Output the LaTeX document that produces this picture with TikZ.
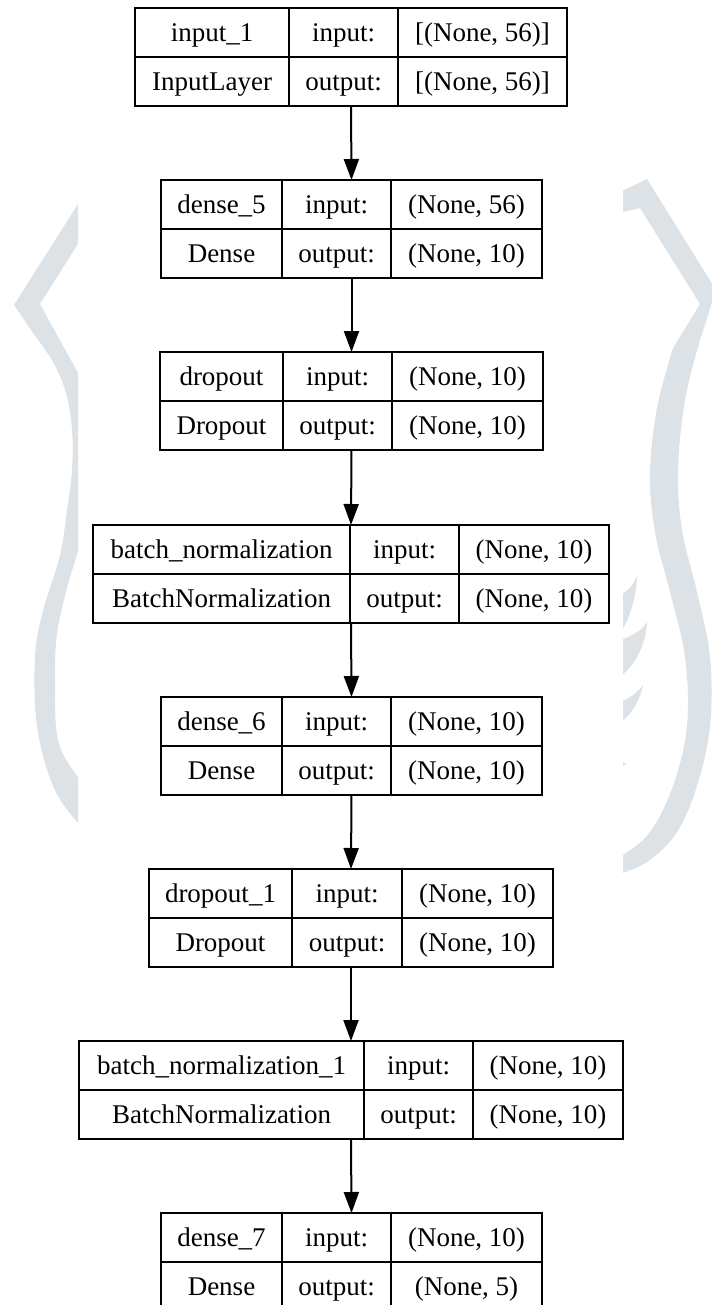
\documentclass[tikz,border=0pt]{standalone}
\usepackage{fontspec}
\setmainfont{Liberation Serif}
\usetikzlibrary{arrows.meta}
\definecolor{markgray}{RGB}{220,226,230}

% One layer table: #1 id, #2 top edge, #3..#6 column edges, #7 layer name, #8 layer class
\newcommand\layerbox[8]{%
  \node[layer, minimum width={#6-#3}, anchor=north west] (#1) at (#3,-#2) {};
  \draw[grid] (#3,{-#2-49}) -- (#6,{-#2-49});
  \draw[grid] (#4,-#2) -- (#4,{-#2-98});
  \draw[grid] (#5,-#2) -- (#5,{-#2-98});
  \node[cell] (#1-name)   at ({(#3+#4)/2},{-#2-33.5}) {#7};
  \node[cell] (#1-class)  at ({(#3+#4)/2},{-#2-82.5}) {#8};
  \node[cell] (#1-inkey)  at ({(#4+#5)/2},{-#2-33.5}) {input:};
  \node[cell] (#1-outkey) at ({(#4+#5)/2},{-#2-82.5}) {output:};
  \def\shapecol{(#5+#6)/2}\def\shapetop{#2}%
}
% Shapes column of the last layer: #1 id, #2 input shape, #3 output shape
\newcommand\layershapes[3]{%
  \node[cell] (#1-in)  at ({\shapecol},{-\shapetop-33.5}) {#2};
  \node[cell] (#1-out) at ({\shapecol},{-\shapetop-82.5}) {#3};
}

\begin{document}
\begin{tikzpicture}[x=1pt,y=1pt,
  layer/.style={draw=black, line width=2pt, minimum height=98pt, inner sep=0pt, outer sep=0pt},
  grid/.style={draw=black, line width=2pt},
  cell/.style={anchor=base, inner sep=0pt, font=\fontsize{27}{32}\selectfont},
  flow/.style={draw=black, line width=2pt, -{Triangle[length=21pt,width=15pt]}},
  emblem/.style={fill=markgray}]
\useasboundingbox (0,0) rectangle (712,-1305);

% faint emblem behind the page margins
\begin{scope}
  \clip (0,0) rectangle (78,-1305) (623,0) rectangle (712,-1305);
  \fill[emblem] (90,-185) -- (14,-305)
    -- plot[smooth,tension=0.6] coordinates {(33,-333) (53,-362) (66,-393) (72,-430) (72,-470) (67,-510) (60,-555) (43,-611) (35,-657) (37,-726) (53,-786) (78,-823) (95,-835)}
    -- plot[smooth,tension=0.6] coordinates {(95,-790) (78,-777) (58,-740) (55,-680) (57,-634) (67,-588) (78,-551) (92,-500) (92,-440) (78,-373)}
    -- (40,-304) -- (100,-209) -- cycle;
  \fill[emblem] (610,-197) -- (647,-179) -- (716,-290)
    -- plot[smooth,tension=0.6] coordinates {(700,-340) (685,-400) (678,-470) (682,-530) (697,-592) (710,-657) (710,-726) (697,-786) (677,-832) (650,-860) (623,-873) (610,-878)}
    -- plot[smooth,tension=0.6] coordinates {(610,-860) (623,-855) (650,-832) (673,-786) (687,-726) (685,-657) (670,-592) (655,-532) (650,-473) (657,-408) (673,-348)}
    -- (700,-304) -- (640,-208) -- (610,-215) -- cycle;
  \fill[emblem] (637,-575) .. controls (637,-595) and (630,-618) .. (621,-632)
    -- (621,-595) .. controls (629,-590) and (635,-583) .. (637,-575) -- cycle;
  \fill[emblem] (647,-622) .. controls (646,-645) and (635,-665) .. (621,-676)
    -- (621,-640) .. controls (633,-635) and (643,-630) .. (647,-622) -- cycle;
  \fill[emblem] (643,-685) .. controls (640,-700) and (632,-714) .. (621,-722)
    -- (621,-702) .. controls (630,-698) and (638,-692) .. (643,-685) -- cycle;
  \fill[emblem] (621,-761) -- (626,-764) -- (621,-768) -- cycle;
\end{scope}

% layer tables
\layerbox{in1}{8}{135}{289}{398}{567}{input\_1}{InputLayer}
\layershapes{in1}{[(None, 56)]}{[(None, 56)]}
\layerbox{d5}{180}{161}{282}{391}{542}{dense\_5}{Dense}
\layershapes{d5}{(None, 56)}{(None, 10)}
\layerbox{dr}{352}{160}{283}{392}{543}{dropout}{Dropout}
\layershapes{dr}{(None, 10)}{(None, 10)}
\layerbox{bn}{525}{93}{350}{459}{609}{batch\_normalization}{BatchNormalization}
\layershapes{bn}{(None, 10)}{(None, 10)}
\layerbox{d6}{697}{161}{282}{391}{542}{dense\_6}{Dense}
\layershapes{d6}{(None, 10)}{(None, 10)}
\layerbox{dr1}{869}{149}{292}{402}{553}{dropout\_1}{Dropout}
\layershapes{dr1}{(None, 10)}{(None, 10)}
\layerbox{bn1}{1041}{79}{364}{473}{623}{batch\_normalization\_1}{BatchNormalization}
\layershapes{bn1}{(None, 10)}{(None, 10)}
\layerbox{d7}{1213}{161}{282}{391}{542}{dense\_7}{Dense}
\layershapes{d7}{(None, 10)}{(None, 5)}

% data flow
\draw[flow] (in1.south) -- (d5.north);
\draw[flow] (d5.south) -- (dr.north);
\draw[flow] (dr.south) -- (bn.north);
\draw[flow] (bn.south) -- (d6.north);
\draw[flow] (d6.south) -- (dr1.north);
\draw[flow] (dr1.south) -- (bn1.north);
\draw[flow] (bn1.south) -- (d7.north);
\end{tikzpicture}
\end{document}
